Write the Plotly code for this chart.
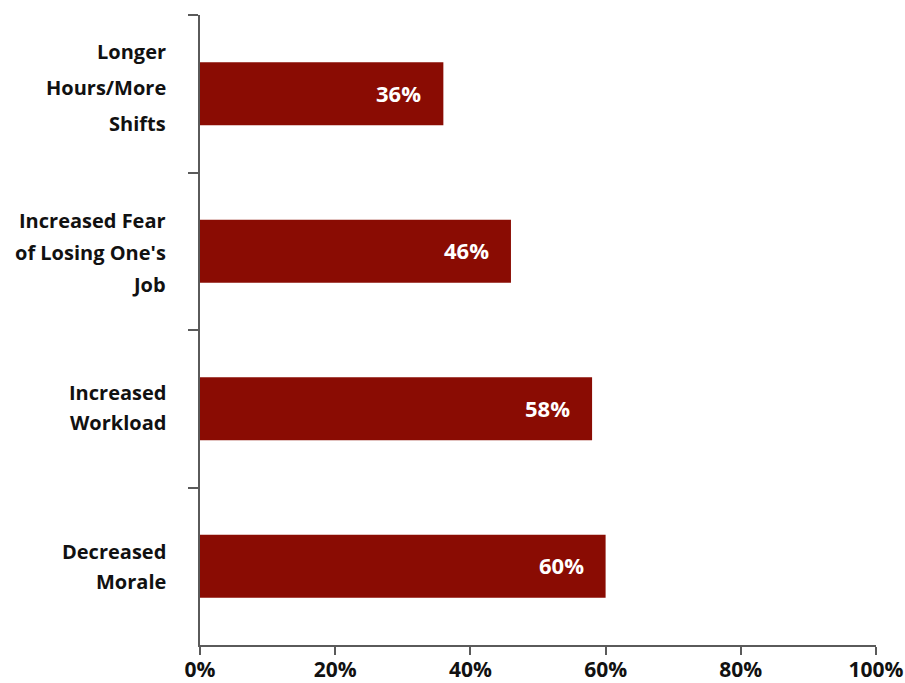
import plotly.graph_objects as go

# Survey results: effects reported (top to bottom)
categories = [
    "Longer<br>Hours/More<br>Shifts",
    "Increased Fear<br>of Losing One's<br>Job",
    "Increased<br>Workload",
    "Decreased<br>Morale",
]
values = [36, 46, 58, 60]
x_ticks = [0, 20, 40, 60, 80, 100]
x_tick_text = ["0%", "20%", "40%", "60%", "80%", "100%"]

BAR_COLOR = "#8a0c03"
AXIS_COLOR = "#5a5a5a"
FONT = "Open Sans"

# Per-label line spacing and vertical nudge (px) for the category labels
LINE_GAPS = [36, 32, 30, 30]
LABEL_NUDGE = [5, -2, 0, -1]

fig = go.Figure(
    go.Bar(
        x=values,
        y=categories,
        orientation="h",
        marker=dict(color=BAR_COLOR, line=dict(width=0)),
        width=0.4,
        hoverinfo="skip",
    )
)

annotations = []
# Value labels inside the bar ends
for cat, v in zip(categories, values):
    annotations.append(dict(
        x=v, y=cat, xref="x", yref="y",
        text=f"<b>{v}%</b>", showarrow=False,
        xanchor="right", yanchor="middle", xshift=-20, yshift=1,
        font=dict(family=FONT, size=22, color="white"),
    ))

# Category labels, one annotation per line for wider line spacing
for cat, gap, nudge in zip(categories, LINE_GAPS, LABEL_NUDGE):
    lines = cat.split("<br>")
    n = len(lines)
    for i, line in enumerate(lines):
        offset = ((n - 1) / 2 - i) * gap
        annotations.append(dict(
            x=0, y=cat, xref="paper", yref="y",
            text=f"<b>{line}</b>", showarrow=False,
            xanchor="right", yanchor="middle",
            xshift=-32, yshift=offset + nudge + 1,
            font=dict(family=FONT, size=20, color="#111111"),
        ))

fig.update_layout(
    width=905, height=683,
    margin=dict(l=200, r=29, t=15, b=38),
    paper_bgcolor="white", plot_bgcolor="white",
    showlegend=False,
    bargap=0.6,
    annotations=annotations,
    xaxis=dict(
        range=[0, 100], automargin=False,
        tickvals=x_ticks, ticktext=[f"<b>{t}</b>" for t in x_tick_text],
        ticks="outside", ticklen=8, tickcolor=AXIS_COLOR, tickwidth=1.5,
        ticklabelstandoff=-3,
        showline=True, linecolor=AXIS_COLOR, linewidth=1.5,
        showgrid=False, zeroline=False,
        tickfont=dict(family=FONT, size=21, color="#111111"),
    ),
    yaxis=dict(
        categoryorder="array", categoryarray=categories,
        autorange="reversed", automargin=False,
        showticklabels=False,
        ticks="outside", tickson="boundaries", ticklen=10,
        tickcolor=AXIS_COLOR, tickwidth=1.5,
        showline=True, linecolor=AXIS_COLOR, linewidth=1.5,
        showgrid=False, zeroline=False,
    ),
)

fig.write_html("out.html")
